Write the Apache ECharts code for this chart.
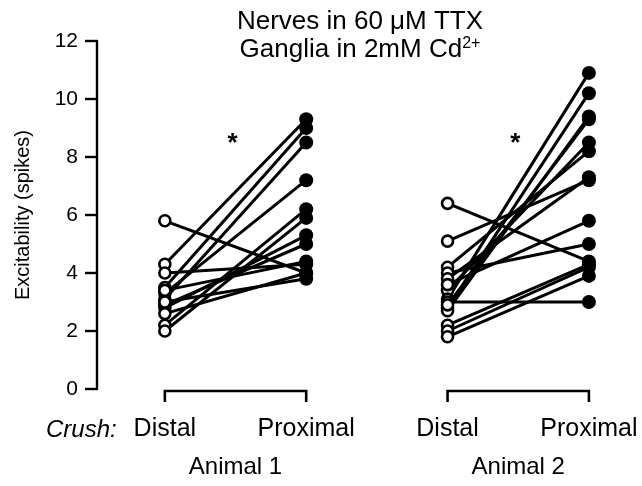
<!DOCTYPE html>
<html>
<head>
<meta charset="utf-8">
<script src="https://cdn.jsdelivr.net/npm/echarts@6/dist/echarts.min.js"></script>
<style>
  html, body { margin: 0; padding: 0; background: #fff; }
  #chart { width: 642px; height: 486px; }
</style>
</head>
<body>
<div id="chart"></div>
<script>
  // x positions of the four columns
  var columns = [1, 2, 3, 4]
  var columnNames = ['Distal', 'Proximal', 'Distal', 'Proximal']
  var animals = ['Animal 1', 'Animal 2']
  var yTicks = [0, 2, 4, 6, 8, 10, 12]

  // paired excitability values (spikes), distal crush -> proximal crush
  var animal1Distal   = [5.8, 4.3, 3.5, 3.1, 3.3, 2.2, 2.0, 2.8, 2.9, 4.0, 3.4, 2.6, 3.0]
  var animal1Proximal = [4.0, 9.3, 9.0, 8.5, 7.2, 6.2, 5.9, 5.3, 5.0, 4.3, 4.4, 4.0, 3.8]
  var animal2Distal   = [6.4, 5.1, 4.2, 4.0, 3.8, 3.4, 3.1, 3.0, 2.8, 2.7, 2.9, 3.6, 2.2, 2.0, 1.8]
  var animal2Proximal = [4.4, 7.2, 8.2, 5.0, 7.3, 8.5, 10.9, 3.0, 10.2, 9.4, 9.3, 5.8, 4.3, 4.2, 3.9]

  var font = 'Liberation Sans, Arial, Helvetica, sans-serif'
  var chart = echarts.init(document.getElementById('chart'))

  var series = []
  function addPairs (xd, xp, distal, proximal) {
    distal.forEach(function (d, i) {
      series.push({
        type: 'line',
        data: [[xd, d], [xp, proximal[i]]],
        symbol: 'none',
        lineStyle: { color: '#000', width: 3 },
        z: 2,
        silent: true
      })
    })
  }
  addPairs(columns[0], columns[1], animal1Distal, animal1Proximal)
  addPairs(columns[2], columns[3], animal2Distal, animal2Proximal)

  var distalPts = animal1Distal.map(function (v) { return [columns[0], v] })
    .concat(animal2Distal.map(function (v) { return [columns[2], v] }))
  var proximalPts = animal1Proximal.map(function (v) { return [columns[1], v] })
    .concat(animal2Proximal.map(function (v) { return [columns[3], v] }))

  series.push({
    type: 'scatter',
    data: distalPts,
    symbol: 'circle',
    symbolSize: 11,
    itemStyle: { color: '#fff', borderColor: '#000', borderWidth: 2.6, opacity: 1 },
    z: 4
  })
  series.push({
    type: 'scatter',
    data: proximalPts,
    symbol: 'circle',
    symbolSize: 14,
    itemStyle: { color: '#000', opacity: 1 },
    z: 4
  })

  var option = {
    animation: false,
    backgroundColor: '#fff',
    title: {
      text: 'Nerves in 60 \u03BCM TTX\nGanglia in 2mM Cd{sup|2+}',
      left: 355,
      top: 3,
      textAlign: 'center',
      textStyle: {
        fontFamily: font,
        fontSize: 26,
        fontWeight: 'normal',
        color: '#000',
        lineHeight: 28,
        rich: {
          sup: { fontFamily: font, fontSize: 16, verticalAlign: 'top', padding: [0, 0, 10, 0], color: '#000' }
        }
      }
    },
    grid: { left: 97, right: 22, top: 41, bottom: 97 },
    xAxis: {
      type: 'value',
      min: 0.52,
      max: 4.22,
      axisLine: { show: false },
      axisTick: { show: false },
      splitLine: { show: false },
      axisLabel: {
        customValues: columns,
        formatter: function (v) { return columnNames[columns.indexOf(v)] || '' },
        fontFamily: font,
        fontSize: 25,
        color: '#000',
        margin: 28
      }
    },
    yAxis: {
      type: 'value',
      min: 0,
      max: 12,
      interval: 2,
      name: 'Excitability (spikes)',
      nameLocation: 'middle',
      nameGap: 64,
      nameTextStyle: { fontFamily: font, fontSize: 20, color: '#000' },
      axisLine: { show: true, lineStyle: { color: '#000', width: 2.4 } },
      axisTick: { show: true, length: 12, lineStyle: { color: '#000', width: 2.4 } },
      splitLine: { show: false },
      axisLabel: {
        customValues: yTicks,
        fontFamily: font,
        fontSize: 21,
        color: '#000',
        margin: 19
      }
    },
    series: series
  }
  chart.setOption(option)

  // brackets under each animal, asterisks and text labels
  var graphics = []
  var y0 = chart.convertToPixel({ gridIndex: 0 }, [1, 0])[1]
  for (var a = 0; a < 2; a++) {
    var pL = chart.convertToPixel({ gridIndex: 0 }, [columns[a * 2], 0])
    var pR = chart.convertToPixel({ gridIndex: 0 }, [columns[a * 2 + 1], 0])
    graphics.push({
      type: 'polyline',
      shape: { points: [[pL[0], y0 + 13], [pL[0], y0 + 2], [pR[0], y0 + 2], [pR[0], y0 + 13]] },
      style: { stroke: '#000', lineWidth: 2.6, fill: null }
    })
    graphics.push({
      type: 'text',
      x: (pL[0] + pR[0]) / 2,
      y: 467,
      style: { text: animals[a], font: '24px ' + font, fill: '#000', align: 'center', verticalAlign: 'middle' }
    })
    var star = chart.convertToPixel({ gridIndex: 0 }, [(columns[a * 2] + columns[a * 2 + 1]) / 2, 8.6])
    graphics.push({
      type: 'text',
      x: star[0] - 3,
      y: star[1] + 4,
      style: { text: '*', font: 'bold 26px ' + font, fill: '#000', align: 'center', verticalAlign: 'middle' }
    })
  }
  graphics.push({
    type: 'text',
    x: 46,
    y: 430,
    style: { text: 'Crush:', font: 'italic 24px ' + font, fill: '#000', align: 'left', verticalAlign: 'middle' }
  })
  chart.setOption({ graphic: graphics })
</script>
</body>
</html>
